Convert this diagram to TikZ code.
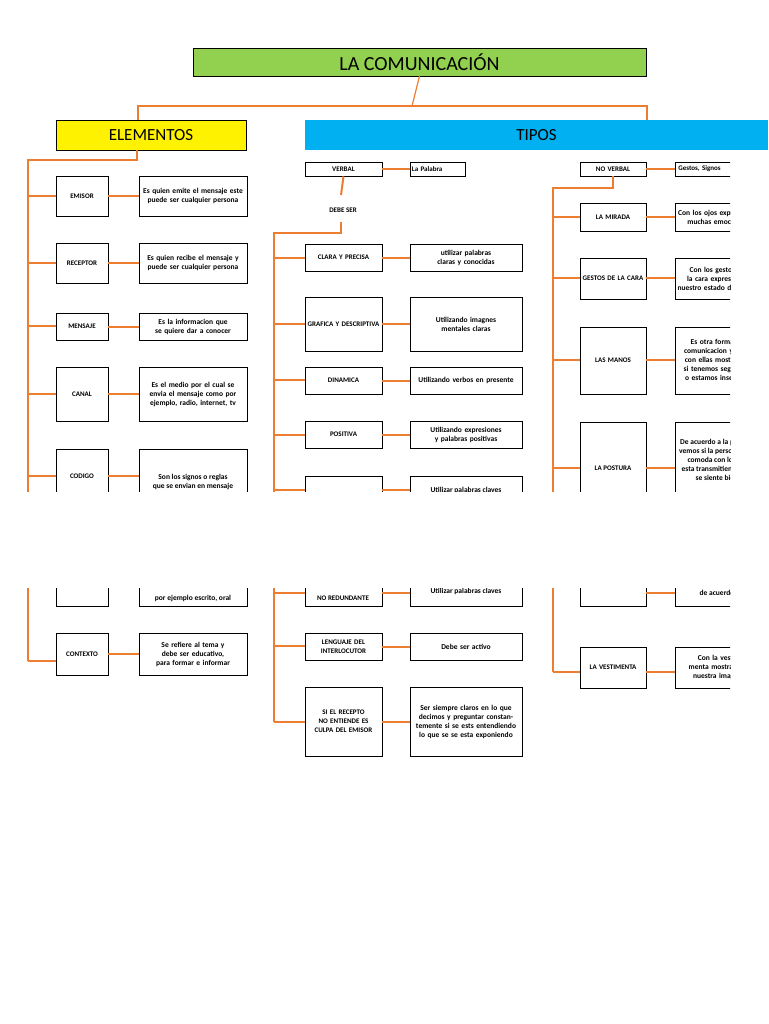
\documentclass[tikz,border=0pt]{standalone}
\usepackage{fontspec}
\setmainfont{Carlito}
\definecolor{org}{HTML}{ED7D31}
\definecolor{grn}{HTML}{92D050}
\definecolor{blu}{HTML}{00B0F0}
\tikzset{
 bx/.style={draw,line width=0.7pt,align=center,inner sep=1pt,font=\bfseries\fontsize{7}{9}\selectfont},
 ds/.style={draw,line width=0.7pt,align=center,inner sep=1pt,font=\bfseries\fontsize{7.5}{9}\selectfont},
 cn/.style={org,line width=2pt},
 cnt/.style={org,line width=1.2pt}
}
\newcommand\mybox[7]{\node[#1,minimum width=#4pt-#2pt,minimum height=#5pt-#3pt,text width=#4pt-#2pt-4pt] (#6) at ({(#2+#4)/2},{(#3+#5)/2}) {#7};}
\begin{document}
\begin{tikzpicture}[x=1pt,y=-1pt]
\useasboundingbox (0,0) rectangle (768,1024);
\fill[white] (0,0) rectangle (768,1024);
% headers
\node[draw,fill=grn,minimum width=453pt,minimum height=28pt,font=\fontsize{20}{22}\selectfont] (t) at (419.5,62) {LA COMUNICACIÓN};
\node[draw,fill=yellow,minimum width=190pt,minimum height=30pt,font=\fontsize{17}{19}\selectfont] (el) at (151,135) {ELEMENTOS};
\node[fill=blu,minimum width=463pt,minimum height=30pt,font=\fontsize{17}{19}\selectfont] (ti) at (536.5,135) {TIPOS};
\draw[cnt] (t.south) -- (412,106) coordinate (m);
\draw[cnt] (m) -- (138,106) -- (138,120);
\draw[cnt] (m) -- (647,106) -- (647,120);
% left column
\draw[cn] (137,150) -- (137,160) -- (28,160) -- (28,661);
\mybox{bx}{56}{176}{108}{216}{e1}{EMISOR}
\mybox{ds}{139}{176}{247}{216}{d1}{Es quien emite el mensaje este puede ser cualquier persona}
\mybox{bx}{56}{243}{108}{283}{e2}{RECEPTOR}
\mybox{ds}{139}{243}{247}{283}{d2}{Es quien recibe el mensaje y puede ser cualquier persona}
\mybox{bx}{56}{313}{108}{340}{e3}{MENSAJE}
\mybox{ds}{139}{313}{247}{340}{d3}{Es la informacion que se quiere dar a conocer}
\mybox{bx}{56}{367}{108}{421}{e4}{CANAL}
\mybox{ds}{139}{367}{247}{421}{d4}{Es el medio por el cual se envia el mensaje como por ejemplo, radio, internet, tv}
\mybox{bx}{56}{449}{108}{606}{e5}{}
\node[font=\bfseries\fontsize{7}{9}\selectfont] at (82,476) {CODIGO};
\mybox{ds}{139}{449}{247}{606}{d5}{}
\node[font=\bfseries\fontsize{7.5}{9}\selectfont,align=center] at (193,482) {Son los signos o reglas\\que se envian en mensaje};
\node[font=\bfseries\fontsize{7.5}{9}\selectfont] at (193,598) {por ejemplo escrito, oral};
\mybox{bx}{56}{633}{108}{675}{e6}{CONTEXTO}
\mybox{ds}{139}{633}{247}{675}{d6}{Se refiere al tema y debe ser educativo, para formar e informar}
\foreach \n/\y in {e1/196,e2/263,e3/326,e4/394,e5/476,e6/661}{\draw[cn] (28,\y) -- (\n.west|-0,\y);}
\foreach \a/\b in {e1/d1,e2/d2,e3/d3,e4/d4,e6/d6}{\draw[cn] (\a) -- (\b);}
\draw[cn] (e5.east|-0,476) -- (d5.west|-0,476);
% middle column
\mybox{bx}{305}{162}{382}{176}{v}{VERBAL}
\node[draw,line width=0.7pt,font=\bfseries\fontsize{7}{9}\selectfont,minimum width=55pt,minimum height=14pt,anchor=west,inner sep=1pt,text width=52pt] (lp) at (410,169) {La Palabra};
\draw[cn] (v) -- (lp);
\node[font=\bfseries\fontsize{7}{9}\selectfont] (ds) at (343,210) {DEBE SER};
\draw[cn] (v.south) -- (341,195);
\draw[cn] (341,222) -- (341,233) -- (274,233) -- (274,722);
\mybox{bx}{305}{244}{382}{271}{m1}{CLARA Y PRECISA}
\mybox{ds}{410}{244}{522}{271}{n1}{utilizar palabras claras y conocidas}
\mybox{bx}{305}{297}{382}{351}{m2}{GRAFICA Y DESCRIPTIVA}
\mybox{ds}{410}{297}{522}{351}{n2}{Utilizando imagnes mentales claras}
\mybox{bx}{305}{367}{382}{394}{m3}{DINAMICA}
\mybox{ds}{410}{367}{522}{394}{n3}{Utilizando verbos en presente}
\mybox{bx}{305}{421}{382}{448}{m4}{POSITIVA}
\mybox{ds}{410}{421}{522}{448}{n4}{Utilizando expresiones y palabras positivas}
\mybox{bx}{305}{476}{382}{606}{m5}{}
\node[font=\bfseries\fontsize{7}{9}\selectfont] at (343,598) {NO REDUNDANTE};
\mybox{ds}{410}{476}{522}{606}{n5}{}
\node[font=\bfseries\fontsize{7.5}{9}\selectfont] at (466,490) {Utilizar palabras claves};
\node[font=\bfseries\fontsize{7.5}{9}\selectfont] at (466,591) {Utilizar palabras claves};
\mybox{bx}{305}{633}{382}{660}{m6}{LENGUAJE DEL INTERLOCUTOR}
\mybox{ds}{410}{633}{522}{660}{n6}{Debe ser activo}
\mybox{bx}{305}{687}{382}{756}{m7}{SI EL RECEPTO NO ENTIENDE ES CULPA DEL EMISOR}
\mybox{ds}{410}{687}{522}{756}{n7}{Ser siempre claros en lo que decimos y preguntar constantemente si se ests entendiendo lo que se se esta exponiendo}
\foreach \n/\y in {m1/258,m2/324,m3/380,m4/435,m5/490,m6/646,m7/722}{\draw[cn] (274,\y) -- (\n.west|-0,\y);}
\foreach \a/\b in {m1/n1,m2/n2,m3/n3,m4/n4,m6/n6,m7/n7}{\draw[cn] (\a) -- (\b);}
\draw[cn] (274,593) -- (305,593);
\draw[cn] (382,490) -- (410,490);
\draw[cn] (382,593) -- (410,593);
% right column
\mybox{bx}{580}{162}{646}{176}{nv}{NO VERBAL}
\draw[cn] (nv.south) -- (613,188) -- (553,188) -- (553,672);
\mybox{bx}{580}{203}{646}{231}{r1}{LA MIRADA}
\mybox{bx}{580}{258}{646}{299}{r2}{GESTOS DE LA CARA}
\mybox{bx}{580}{327}{646}{394}{r3}{LAS MANOS}
\mybox{bx}{580}{422}{646}{606}{r4}{}
\node[font=\bfseries\fontsize{7}{9}\selectfont] at (613,468) {LA POSTURA};
\mybox{bx}{580}{647}{646}{688}{r5}{LA VESTIMENTA}
\foreach \n/\y in {r1/217,r2/278,r3/360,r4/468,r5/672}{\draw[cn] (553,\y) -- (\n.west|-0,\y);}
\begin{scope}
\clip (0,155) rectangle (730,1024);
\node[draw,line width=0.7pt,font=\bfseries\fontsize{7}{9}\selectfont,minimum width=85pt,minimum height=14pt,anchor=west,inner sep=3pt,text width=80pt] (s0) at (675,169) {Gestos, Signos};
\mybox{ds}{675}{203}{760}{231}{s1}{Con los ojos expresamos muchas emociones}
\mybox{ds}{675}{258}{760}{299}{s2}{Con los gestos de la cara expresamos nuestro estado de animo}
\mybox{ds}{675}{327}{760}{394}{s3}{Es otra forma de comunicacion ya que con ellas mostramos si tenemos seguridad o estamos inseguros}
\mybox{ds}{675}{422}{760}{606}{s4}{}
\node[font=\bfseries\fontsize{7.5}{9}\selectfont,align=center] at (717,460) {De acuerdo a la postura\\vemos si la persona esta\\comoda con lo que\\esta transmitiendo o si\\se siente bien};
\node[font=\bfseries\fontsize{7.5}{9}\selectfont] at (717,593) {de acuerdo};
\mybox{ds}{675}{647}{760}{688}{s5}{Con la vestimenta mostramos nuestra imagen}
\end{scope}
\draw[cn] (nv) -- (675,169);
\foreach \a/\y in {r1/217,r2/278,r3/360,r4/468,r5/672}{\draw[cn] (646,\y) -- (675,\y);}
\draw[cn] (646,593) -- (675,593);
% band
\fill[white] (0,492) rectangle (768,588);
\end{tikzpicture}
\end{document}
